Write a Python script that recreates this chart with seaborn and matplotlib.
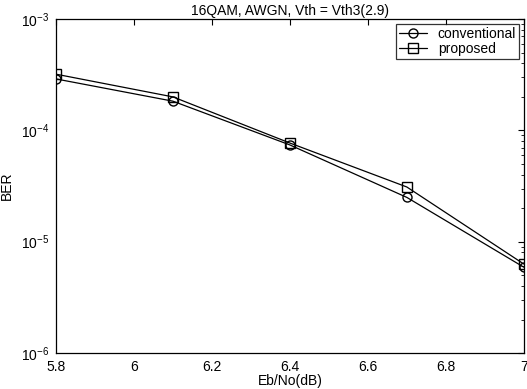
import matplotlib
matplotlib.use("Agg")
import matplotlib.pyplot as plt
import matplotlib.ticker as mticker
import pandas as pd
import seaborn as sns

# Eb/No points and BER
ebno = [5.8, 6.1, 6.4, 6.7, 7.0]
ber_conventional = [2.9e-4, 1.83e-4, 7.4e-5, 2.5e-5, 5.9e-6]
ber_proposed = [3.2e-4, 2.0e-4, 7.7e-5, 3.1e-5, 6.3e-6]
series_names = ["conventional", "proposed"]
x_ticks = [5.8, 6.0, 6.2, 6.4, 6.6, 6.8, 7.0]

df = pd.DataFrame({
    "EbNo": ebno * 2,
    "BER": ber_conventional + ber_proposed,
    "scheme": [series_names[0]] * len(ebno) + [series_names[1]] * len(ebno),
})

sns.set_style("white")
plt.rcParams["font.family"] = ["Liberation Sans", "DejaVu Sans"]
plt.rcParams["font.size"] = 10
plt.rcParams["text.color"] = "black"
plt.rcParams["axes.labelcolor"] = "black"
plt.rcParams["xtick.color"] = "black"
plt.rcParams["ytick.color"] = "black"
plt.rcParams["xtick.direction"] = "in"
plt.rcParams["ytick.direction"] = "in"

fig = plt.figure(figsize=(5.27, 3.89), dpi=100)
ax = fig.add_axes([0.106, 0.0925, 0.888, 0.8585])

sns.lineplot(
    data=df,
    x="EbNo",
    y="BER",
    hue="scheme",
    style="scheme",
    palette={"conventional": "black", "proposed": "black"},
    markers={"conventional": "o", "proposed": "s"},
    dashes=False,
    markerfacecolor="none",
    markeredgecolor="black",
    markeredgewidth=1.0,
    markersize=6.5,
    linewidth=0.9,
    ax=ax,
)

ax.set_yscale("log")
ax.set_ylim(1e-6, 1e-3)
ax.set_xlim(5.8, 7.0)
ax.set_xticks(x_ticks)
ax.xaxis.set_major_formatter(mticker.FormatStrFormatter("%g"))
ax.xaxis.set_minor_locator(mticker.NullLocator())
ax.yaxis.set_minor_locator(mticker.LogLocator(base=10, subs=range(2, 10)))

ax.tick_params(which="both", top=True, right=True, labelsize=10)
ax.tick_params(axis="x", pad=5)
ax.tick_params(axis="y", pad=5)
ax.tick_params(which="major", length=4, width=0.8)
ax.tick_params(which="minor", length=2, width=0.6)
for spine in ax.spines.values():
    spine.set_color("black")
    spine.set_linewidth(0.9)

ax.set_title("16QAM, AWGN, Vth = Vth3(2.9)", fontsize=10, pad=3)
ax.set_xlabel("Eb/No(dB)", fontsize=10, labelpad=0)
ax.set_ylabel("BER", fontsize=10, labelpad=5)

leg = ax.legend(
    loc="upper right",
    fontsize=10,
    frameon=True,
    fancybox=False,
    borderpad=0.2,
    labelspacing=0.1,
    handlelength=2.0,
    handletextpad=0.8,
    borderaxespad=0.35,
)
leg.get_frame().set_edgecolor("black")
leg.get_frame().set_linewidth(0.9)

fig.savefig("out.png", dpi=100)
plt.close(fig)
